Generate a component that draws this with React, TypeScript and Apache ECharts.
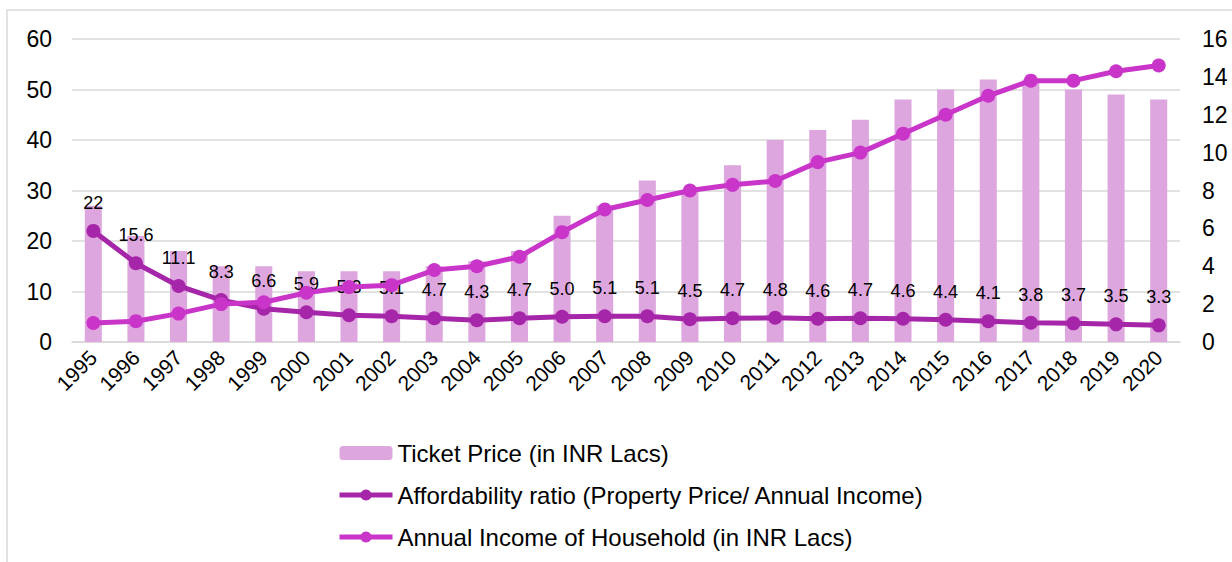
import React, { useEffect, useRef } from "react";
import * as echarts from "echarts";

const years = [
  "1995", "1996", "1997", "1998", "1999", "2000", "2001", "2002", "2003",
  "2004", "2005", "2006", "2007", "2008", "2009", "2010", "2011", "2012",
  "2013", "2014", "2015", "2016", "2017", "2018", "2019", "2020",
];

const ticketPrice = [
  27, 21, 18, 15, 15, 14, 14, 14, 15, 16, 18, 25, 27, 32, 30, 35, 40, 42,
  44, 48, 50, 52, 52, 50, 49, 48,
];

const affordabilityRatio = [
  22, 15.6, 11.1, 8.3, 6.6, 5.9, 5.3, 5.1, 4.7, 4.3, 4.7, 5.0, 5.1, 5.1, 4.5,
  4.7, 4.8, 4.6, 4.7, 4.6, 4.4, 4.1, 3.8, 3.7, 3.5, 3.3,
];

const annualIncome = [
  1.0, 1.1, 1.5, 2.0, 2.1, 2.6, 2.9, 3.0, 3.8, 4.0, 4.5, 5.8, 7.0, 7.5, 8.0,
  8.3, 8.5, 9.5, 10.0, 11.0, 12.0, 13.0, 13.8, 13.8, 14.3, 14.6,
];

const seriesNames = [
  "Ticket Price (in INR Lacs)",
  "Affordability ratio (Property Price/ Annual Income)",
  "Annual Income of Household (in INR Lacs)",
];

const FONT = "'Liberation Sans', Arial, sans-serif";
const BAR_COLOR = "#DEA6DE";
const RATIO_COLOR = "#A526A8";
const INCOME_COLOR = "#C935C9";
const GRID_COLOR = "#D9D9D9";

export default function App() {
  const ref = useRef<HTMLDivElement>(null);

  useEffect(() => {
    if (!ref.current) return;
    const chart = echarts.init(ref.current, null, { renderer: "svg" });
    chart.setOption({
      animation: false,
      backgroundColor: "#ffffff",
      textStyle: { fontFamily: FONT },
      graphic: [
        {
          type: "rect",
          shape: { x: 7, y: 10, width: 1240, height: 600 },
          style: { fill: "none", stroke: GRID_COLOR, lineWidth: 1.5 },
          silent: true,
          z: -10,
        },
      ],
      grid: { left: 72, right: 52, top: 39, bottom: 220, containLabel: false },
      legend: {
        orient: "vertical",
        left: 332,
        top: 436,
        itemWidth: 53,
        itemHeight: 14,
        itemGap: 18,
        textStyle: { fontSize: 24, color: "#000", fontFamily: FONT },
        data: [
          { name: seriesNames[0] },
          { name: seriesNames[1], lineStyle: { width: 5 } },
          { name: seriesNames[2], lineStyle: { width: 5 } },
        ],
      },
      xAxis: {
        type: "category",
        data: years,
        axisLine: { lineStyle: { color: GRID_COLOR, width: 1.5 } },
        axisTick: { show: false },
        axisLabel: {
          rotate: 45,
          fontSize: 21,
          color: "#000",
          margin: 12,
          fontFamily: FONT,
        },
      },
      yAxis: [
        {
          type: "value",
          min: 0,
          max: 60,
          interval: 10,
          axisLine: { show: false },
          axisTick: { show: false },
          splitLine: { lineStyle: { color: GRID_COLOR, width: 1.5 } },
          axisLabel: { fontSize: 23, color: "#000", margin: 20, fontFamily: FONT },
        },
        {
          type: "value",
          min: 0,
          max: 16,
          interval: 2,
          axisLine: { show: false },
          axisTick: { show: false },
          splitLine: { show: false },
          axisLabel: { fontSize: 23, color: "#000", margin: 22, fontFamily: FONT },
        },
      ],
      series: [
        {
          name: seriesNames[0],
          type: "bar",
          data: ticketPrice,
          yAxisIndex: 0,
          barWidth: "40%",
          itemStyle: { color: BAR_COLOR },
        },
        {
          name: seriesNames[1],
          type: "line",
          data: affordabilityRatio,
          yAxisIndex: 0,
          symbol: "circle",
          symbolSize: 14,
          lineStyle: { color: RATIO_COLOR, width: 5 },
          itemStyle: { color: RATIO_COLOR },
          label: {
            show: true,
            position: "top",
            distance: 12,
            fontSize: 18,
            color: "#000",
            fontFamily: FONT,
            formatter: (p: any) =>
              p.dataIndex === 0 ? String(p.value) : Number(p.value).toFixed(1),
          },
          z: 3,
        },
        {
          name: seriesNames[2],
          type: "line",
          data: annualIncome,
          yAxisIndex: 1,
          symbol: "circle",
          symbolSize: 14,
          lineStyle: { color: INCOME_COLOR, width: 5 },
          itemStyle: { color: INCOME_COLOR },
          z: 4,
        },
      ],
    });
    return () => chart.dispose();
  }, []);

  return (
    <div
      ref={ref}
      style={{ position: "fixed", left: 0, top: 0, width: 1232, height: 562 }}
    />
  );
}
